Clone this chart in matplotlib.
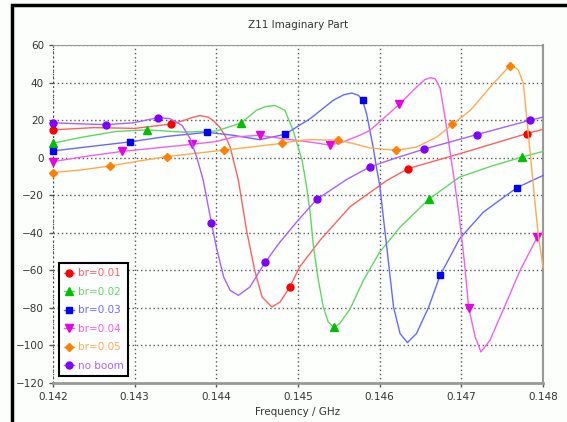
import numpy as np
import matplotlib
matplotlib.use("Agg")
import matplotlib.pyplot as plt
from matplotlib.patches import Rectangle

# Z11 imaginary part vs frequency
red_f = [0.142, 0.1425, 0.1430, 0.14345, 0.1436, 0.1437, 0.1438, 0.1439, 0.14397, 0.14404,
         0.14411, 0.14417, 0.14427, 0.14437, 0.14447, 0.14456, 0.14468, 0.14478, 0.1449,
         0.14502, 0.14527, 0.14564, 0.14609, 0.14635, 0.14698, 0.1478, 0.148]
red_v = [14.8, 16.0, 15.6, 17.9, 19.8, 21.3, 22.4, 21.6, 19.5, 16.3,
         11.5, 5.6, -12.0, -38.7, -60.0, -74.2, -79.5, -76.9, -68.9,
         -58.2, -44.0, -26.0, -12.1, -5.8, 2.1, 12.8, 15.1]
red_m = [0.142, 0.14345, 0.1449, 0.14635, 0.1478]

green_f = [0.142, 0.14237, 0.14278, 0.14315, 0.1436, 0.144, 0.1443, 0.14449, 0.1446, 0.14472,
           0.14484, 0.14494, 0.14505, 0.1451, 0.14515, 0.14519, 0.14525, 0.14531, 0.14537,
           0.14544, 0.14551, 0.14564, 0.1458, 0.146, 0.14625, 0.1466, 0.14698, 0.14737,
           0.14774, 0.148]
green_v = [7.7, 11.0, 14.0, 14.8, 13.6, 14.2, 18.4, 25.2, 27.2, 27.8,
           25.2, 14.5, -1.4, -14.0, -29.8, -47.6, -65.4, -79.6, -87.5,
           -90.2, -88.4, -80.4, -65.4, -50.3, -37.0, -22.2, -10.3, -4.5,
           0.3, 3.3]
green_m = [0.142, 0.14315, 0.1443, 0.14544, 0.1466, 0.14774]

blue_f = [0.142, 0.14237, 0.14294, 0.14339, 0.14389, 0.14421, 0.14453, 0.14484, 0.14515,
          0.14543, 0.14556, 0.14566, 0.14574, 0.14579, 0.14584, 0.14588, 0.14592, 0.14596,
          0.146, 0.14604, 0.14611, 0.14617, 0.14625, 0.14634, 0.14645, 0.1466, 0.14674,
          0.14698, 0.14727, 0.14768, 0.14787, 0.148]
blue_v = [3.6, 5.5, 8.4, 11.3, 13.5, 11.9, 9.6, 12.4, 20.8,
          30.5, 33.5, 34.4, 33.2, 30.5, 23.4, 14.5, 5.6, -5.0,
          -14.5, -29.8, -56.5, -79.6, -93.7, -98.5, -93.7, -79.6, -62.7,
          -43.1, -29.0, -16.0, -12.1, -9.5]
blue_m = [0.142, 0.14294, 0.14389, 0.14484, 0.14579, 0.14674, 0.14768]

mag_f = [0.142, 0.14242, 0.14284, 0.14327, 0.1437, 0.144, 0.14421, 0.14453, 0.14482, 0.14515,
         0.14539, 0.14555, 0.14576, 0.14588, 0.14624, 0.14645, 0.14655, 0.14662, 0.14668,
         0.14674, 0.1468, 0.14686, 0.14692, 0.14698, 0.14704, 0.14709, 0.14717, 0.14724,
         0.14735, 0.14751, 0.14772, 0.14793, 0.148]
mag_v = [-2.1, 0.8, 3.3, 5.2, 7.1, 8.6, 11.0, 11.9, 10.1, 8.3,
         6.7, 8.3, 12.0, 14.5, 28.4, 37.5, 41.5, 42.6, 42.0,
         37.0, 21.6, 3.9, -13.9, -33.4, -56.5, -80.0, -95.5, -103.5,
         -97.3, -81.3, -60.0, -42.3, -39.6]
mag_m = [0.142, 0.14284, 0.1437, 0.14453, 0.14539, 0.14624, 0.14709, 0.14793]

orange_f = [0.142, 0.14235, 0.1427, 0.14305, 0.14339, 0.14374, 0.14409, 0.14445, 0.1448,
            0.14502, 0.14515, 0.14549, 0.14568, 0.14588, 0.1462, 0.14645, 0.1467, 0.14689,
            0.14711, 0.14739, 0.14759, 0.14766, 0.1477, 0.14776, 0.1478, 0.14784, 0.14788,
            0.14794, 0.148]
orange_v = [-7.9, -6.5, -4.4, -1.8, 0.5, 2.3, 4.0, 5.8, 7.6,
            9.2, 9.6, 9.3, 7.5, 5.2, 3.9, 5.6, 11.0, 17.7,
            25.2, 39.4, 48.8, 48.0, 46.5, 39.4, 21.6, 3.9, -14.0,
            -40.6, -58.2]
orange_m = [0.142, 0.1427, 0.14339, 0.14409, 0.1448, 0.14549, 0.1462, 0.14689, 0.14759]

noboom_f = [0.142, 0.14233, 0.14265, 0.14297, 0.14329, 0.14343, 0.14358, 0.14368, 0.14376,
            0.14384, 0.14394, 0.144, 0.14409, 0.14417, 0.14427, 0.14441, 0.1446, 0.14478,
            0.145, 0.14523, 0.1456, 0.14588, 0.14621, 0.14654, 0.14719, 0.14784, 0.148]
noboom_v = [18.6, 18.0, 17.6, 18.5, 21.3, 20.8, 17.2, 10.1, 0.3,
            -12.1, -34.8, -47.6, -63.6, -70.7, -73.3, -68.9, -55.6, -44.9,
            -33.4, -22.2, -11.5, -4.9, 0.0, 4.5, 12.3, 19.9, 21.6]
noboom_m = [0.142, 0.14265, 0.14329, 0.14394, 0.1446, 0.14523, 0.14588, 0.14654, 0.14719, 0.14784]

labels = ["br=0.01", "br=0.02", "br=0.03", "br=0.04", "br=0.05", "no boom"]

series = [
    (red_f, red_v, red_m, "#ff6060", "#ff0000", "o", 5),
    (green_f, green_v, green_m, "#60d860", "#00c000", "^", 6),
    (blue_f, blue_v, blue_m, "#6868ff", "#0000ff", "s", 5),
    (mag_f, mag_v, mag_m, "#f060f0", "#e800e8", "v", 6),
    (orange_f, orange_v, orange_m, "#ffaa50", "#ff8000", "D", 4),
    (noboom_f, noboom_v, noboom_m, "#a860ff", "#8000ff", "o", 5),
]

fig = plt.figure(figsize=(5.67, 4.22), dpi=100)
fig.patch.set_facecolor("#fcfefc")
ax = fig.add_axes([53 / 567, 1 - 383 / 422, 490 / 567, 338 / 422])
ax.set_facecolor("#fdfffd")

for (f, v, m, lc, mc, mk, ms), lab in zip(series, labels):
    f = np.array(f)
    idx = [int(np.argmin(np.abs(f - x))) for x in m]
    ax.plot(f, v, color=lc, lw=1.0, marker=mk, markersize=ms, markevery=idx,
            markerfacecolor=mc, markeredgecolor=mc, label=lab, clip_on=False, zorder=3)

ax.set_xlim(0.142, 0.148)
ax.set_ylim(-120, 60)
ax.set_xticks(np.arange(0.142, 0.14801, 0.001))
ax.set_xticklabels(["0.142", "0.143", "0.144", "0.145", "0.146", "0.147", "0.148"])
ax.set_yticks(np.arange(-120, 61, 20))
ax.tick_params(labelsize=7.5, colors="#555555", labelcolor="#333333", length=3, width=1)
ax.grid(True, color="#555555", linestyle=(0, (1, 2)), linewidth=1)
ax.set_axisbelow(True)

for s in ["top", "right", "bottom"]:
    ax.spines[s].set_color("#999999")
ax.spines["bottom"].set_linewidth(2)
ax.spines["right"].set_linewidth(1.5)
ax.spines["left"].set_visible(False)
ax.axvline(0.142, color="#333333", linestyle=(0, (1, 2)), linewidth=1.2, zorder=2)

fig.text(298 / 567, 1 - 25 / 422, "Z11 Imaginary Part", ha="center", va="center",
         fontsize=7.5, color="#333333")
fig.text(298 / 567, 1 - 412 / 422, "Frequency / GHz", ha="center", va="center",
         fontsize=7.5, color="#333333")

leg = ax.legend(loc="lower left", bbox_to_anchor=(0.013, 0.022), borderaxespad=0,
                fontsize=7.5, numpoints=1, handlelength=1.0, handletextpad=0.3,
                labelspacing=0.82, borderpad=0.45, fancybox=False, labelcolor="linecolor",
                framealpha=1)
leg.get_frame().set_edgecolor("black")
leg.get_frame().set_linewidth(1.5)

# outer frame, cut off at the right and bottom like the screenshot
fig.patches.append(Rectangle((12 / 567, -0.1), 1.2, 1 - 5 / 422 + 0.1, transform=fig.transFigure,
                             fill=False, edgecolor="black", linewidth=2.5))

fig.savefig("out.png", dpi=100)
